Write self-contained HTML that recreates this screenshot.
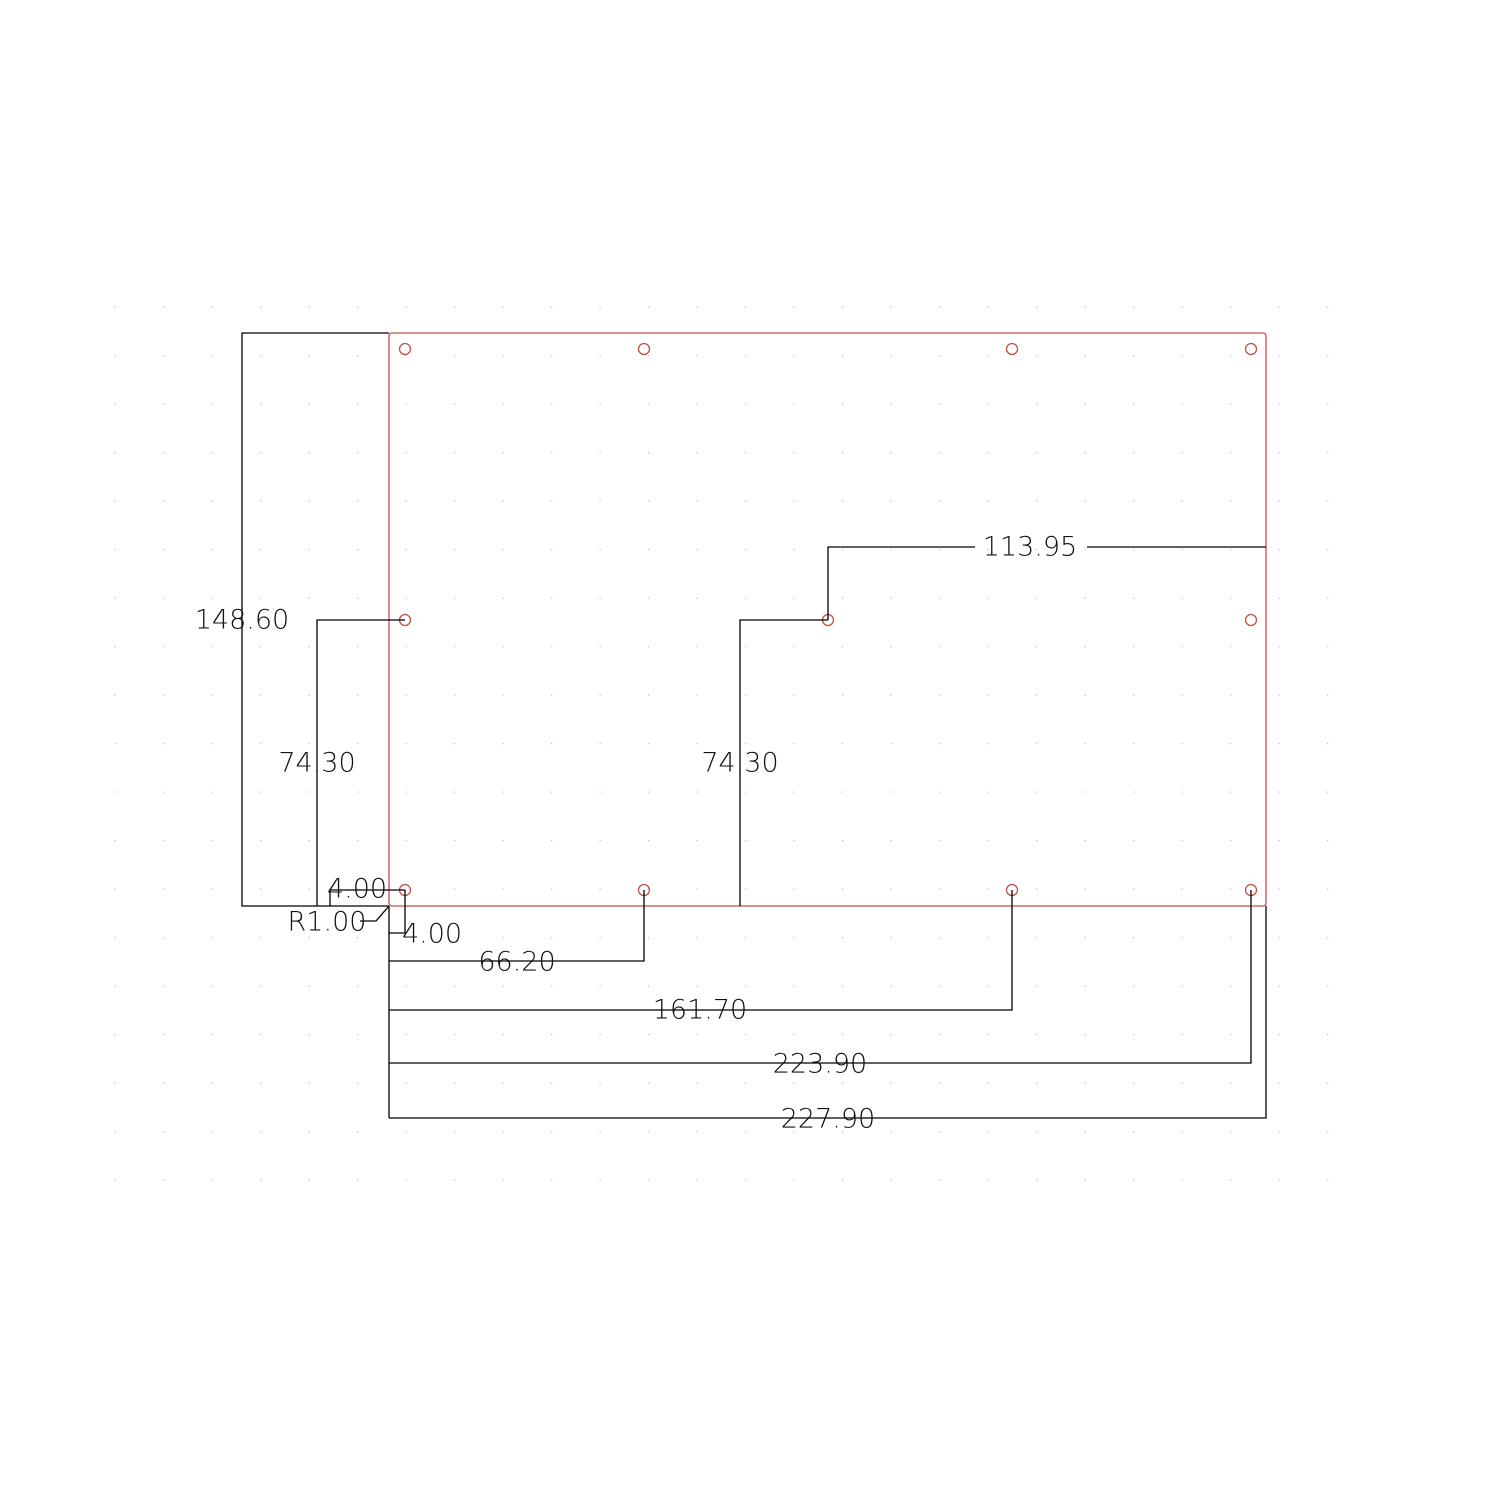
<!DOCTYPE html>
<html><head><style>html,body{margin:0;padding:0;background:#fff}svg{display:block}
text{font-family:"DejaVu Sans","Liberation Sans",sans-serif;font-weight:200;font-size:27px;fill:#111;text-anchor:middle;dominant-baseline:central}</style></head>
<body>
<svg width="1500" height="1500" viewBox="0 0 1500 1500" xmlns="http://www.w3.org/2000/svg">
<defs><pattern id="g" x="114.5" y="306.5" width="48.5" height="48.5" patternUnits="userSpaceOnUse"><rect x="0" y="0" width="1.2" height="1.2" fill="#bbb"/></pattern></defs>
<rect x="113" y="305" width="1260" height="920" fill="url(#g)"/>
<g fill="none" stroke="#c0504d" stroke-width="1.3">
<rect x="389" y="333" width="877" height="573" rx="3"/>
<circle cx="405" cy="349" r="5.5"/><circle cx="644" cy="349" r="5.5"/><circle cx="1012" cy="349" r="5.5"/><circle cx="1251" cy="349" r="5.5"/>
<circle cx="405" cy="620" r="5.5"/><circle cx="828" cy="620" r="5.5"/><circle cx="1251" cy="620" r="5.5"/>
<circle cx="405" cy="890" r="5.5"/><circle cx="644" cy="890" r="5.5"/><circle cx="1012" cy="890" r="5.5"/><circle cx="1251" cy="890" r="5.5"/>
</g>
<g fill="none" stroke="#000" stroke-width="1.3">
<polyline points="389,333 242,333 242,906 389,906"/>
<polyline points="405,620 317,620 317,906"/>
<polyline points="828,620 740,620 740,906"/>
<polyline points="828,620 828,547 975,547"/>
<line x1="1087" y1="547" x2="1266" y2="547"/>
<polyline points="405,890 330,890 330,906"/>
<polyline points="405,890 405,933 389,933"/>
<polyline points="360,921 376,921 389,906"/>
<line x1="389" y1="906" x2="389" y2="1118"/>
<polyline points="389,961 644,961 644,890"/>
<polyline points="389,1010 1012,1010 1012,890"/>
<polyline points="389,1063 1251,1063 1251,890"/>
<polyline points="389,1118 1266,1118 1266,906"/>
</g>
<text x="242" y="620">148.60</text>
<text x="317" y="763">74.30</text>
<text x="740" y="763">74.30</text>
<text x="1030" y="547">113.95</text>
<text x="357" y="889">4.00</text>
<text x="327" y="922">R1.00</text>
<text x="432" y="934">4.00</text>
<text x="517" y="962">66.20</text>
<text x="700" y="1010">161.70</text>
<text x="820" y="1064">223.90</text>
<text x="828" y="1119">227.90</text>
</svg>
</body></html>
